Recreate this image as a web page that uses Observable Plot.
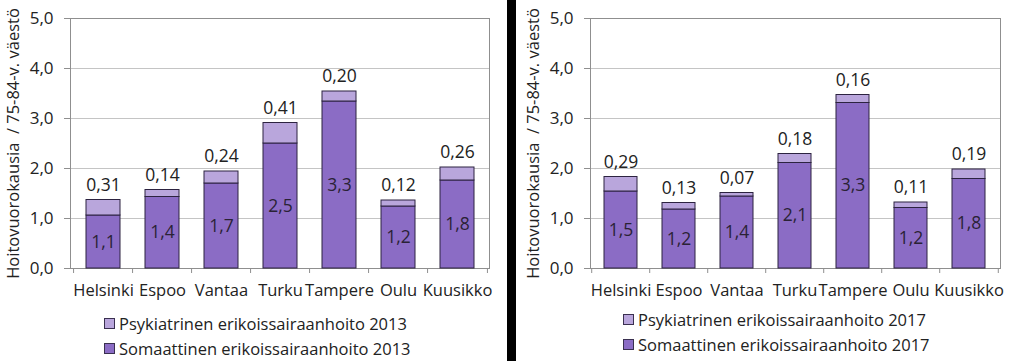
<!DOCTYPE html>
<html><head><meta charset="utf-8">
<script src="https://cdn.jsdelivr.net/npm/d3@7"></script>
<script src="https://cdn.jsdelivr.net/npm/@observablehq/plot@0.6"></script>
<style>
body{margin:0;background:#fff;font-family:"Open Sans",sans-serif;}
#wrap{display:flex;width:1024px;height:361px;overflow:hidden;background:#fff;}
.panel{position:relative;height:361px;}
.sep{width:9px;background:#000;height:361px;flex:none;}
svg text{white-space:pre;}
.leg{position:absolute;display:flex;align-items:center;height:20px;font-size:16.5px;color:#222;white-space:nowrap;}
.sw{width:9px;height:9px;border:1px solid #3a3050;margin-right:4px;flex:none;}
</style></head><body>
<div id="wrap"><div class="panel" id="p1" style="width:507px"></div><div class="sep"></div><div class="panel" id="p2" style="width:508px"></div></div>
<script>
const cities = ["Helsinki","Espoo","Vantaa","Turku","Tampere","Oulu","Kuusikko"];
const somatic2013 = [1.06,1.43,1.70,2.50,3.34,1.24,1.76];
const psych2013 = [0.31,0.14,0.24,0.41,0.20,0.12,0.26];
const somatic2017 = [1.54,1.18,1.44,2.11,3.31,1.21,1.79];
const psych2017 = [0.29,0.13,0.07,0.18,0.16,0.11,0.19];
const yTicks = [0,1,2,3,4,5];
const yLabel = "Hoitovuorokausia  / 75-84-v. väestö";
const legendPsych = ["Psykiatrinen erikoissairaanhoito 2013","Psykiatrinen erikoissairaanhoito 2017"];
const legendSom = ["Somaattinen erikoissairaanhoito 2013","Somaattinen erikoissairaanhoito 2017"];

const somColor = "#8b6cc5", psyColor = "#b9a6dc", edge = "#2c2340";
const comma1 = d => d3.format(".1f")(d).replace(".", ",");
const comma2 = d => d3.format(".2f")(d).replace(".", ",");

function panel(el, som, psy, w, ml, mr, legPsy, legSom, legLayout) {
  const rows = cities.map((c, i) => ({city: c, som: som[i], psy: psy[i], tot: som[i] + psy[i]}));
  const pad = 0.43;
  const step = (w - ml - mr) / cities.length;
  const boundaries = cities.map((c, i) => ({city: c, dx: -step / 2})).concat([{city: cities[cities.length - 1], dx: step / 2}]);
  const chart = Plot.plot({
    width: w, height: 305,
    marginLeft: ml, marginRight: mr, marginTop: 18, marginBottom: 37,
    style: {fontFamily: "'Open Sans', sans-serif", fontSize: "16px", color: "#222", background: "#fff"},
    x: {domain: cities, paddingInner: pad, paddingOuter: pad / 2},
    y: {domain: [0, 5]},
    marks: [
      Plot.gridY(yTicks, {stroke: "#c4c4c4", strokeOpacity: 1}),
      Plot.frame({stroke: "#8f8f8f"}),
      Plot.barY(rows, {x: "city", y1: 0, y2: "som", fill: somColor, stroke: edge, strokeWidth: 1}),
      Plot.barY(rows, {x: "city", y1: "som", y2: "tot", fill: psyColor, stroke: edge, strokeWidth: 1}),
      Plot.text(rows, {x: "city", y: d => d.som / 2, text: d => comma1(d.som), fontSize: 17.5, fill: "#2a2235", lineAnchor: "middle"}),
      Plot.text(rows, {x: "city", y: "tot", text: d => comma2(d.psy), fontSize: 17.5, fill: "#222", lineAnchor: "middle", dy: -15}),
      Plot.ruleX(boundaries, {x: "city", y1: 0, y2: -0.1, stroke: "#8f8f8f"}),
      Plot.axisY(yTicks, {tickFormat: comma1, tickSize: 6, tickPadding: 11, fontSize: 17, stroke: "#8f8f8f", fill: "#222",
        label: yLabel, labelAnchor: "center", labelOffset: 63, labelArrow: "none"}),
      Plot.axisX({tickSize: 0, tickPadding: 16, fontSize: 16.5, fill: "#222", label: null})
    ]
  });
  el.appendChild(chart);
  const rules = chart.querySelectorAll("g[aria-label='rule'] line");
  rules.forEach((ln, i) => { ln.setAttribute("transform", `translate(${boundaries[i].dx},0)`); });
  const ylab = chart.querySelector("g[aria-label='y-axis label'] text");
  if (ylab) ylab.setAttribute("font-size", "16.5");
  const mk = (txt, color, top) => {
    const d = document.createElement("div");
    d.className = "leg";
    d.style.left = legLayout.left + "px";
    d.style.top = (top - 10) + "px";
    d.innerHTML = `<span class="sw" style="background:${color}"></span><span>${txt}</span>`;
    el.appendChild(d);
  };
  mk(legPsy, psyColor, legLayout.y1);
  mk(legSom, somColor, legLayout.y2);
}

panel(document.getElementById("p1"), somatic2013, psych2013, 507, 70, 18, legendPsych[0], legendSom[0], {left: 104, y1: 323, y2: 348});
panel(document.getElementById("p2"), somatic2017, psych2017, 508, 74, 24, legendPsych[1], legendSom[1], {left: 107, y1: 319, y2: 344});
</script>
</body></html>
